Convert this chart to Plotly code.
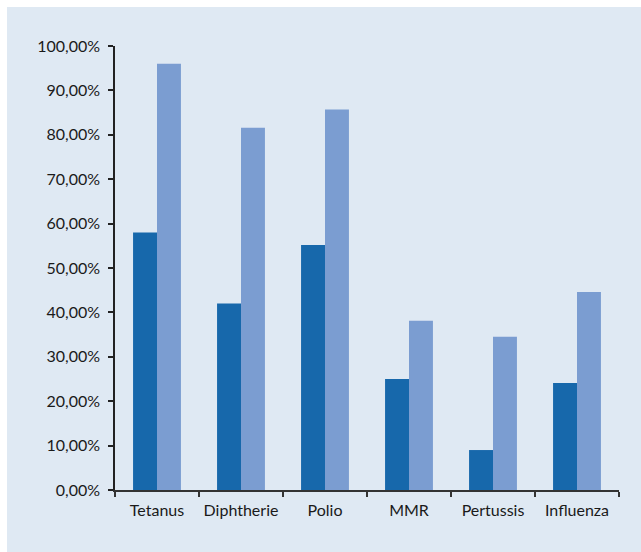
import plotly.graph_objects as go

categories = ["Tetanus", "Diphtherie", "Polio", "MMR", "Pertussis", "Influenza"]
series_dark = [58.0, 42.0, 55.2, 25.0, 9.0, 24.1]
series_light = [96.0, 81.6, 85.7, 38.1, 34.5, 44.6]
y_ticks = [0, 10, 20, 30, 40, 50, 60, 70, 80, 90, 100]
y_tick_labels = [f"{v:.2f}".replace(".", ",") + "%" for v in y_ticks]

W, H = 641, 552
L, R, T, B = 115, 22, 46, 62
pw, ph = W - L - R, H - T - B

fig = go.Figure()
fig.add_trace(go.Bar(x=categories, y=series_dark, marker=dict(color="#1768AB", line=dict(width=0)), name="A"))
fig.add_trace(go.Bar(x=categories, y=series_light, marker=dict(color="#7B9DD1", line=dict(width=0)), name="B"))

fig.add_shape(type="rect", xref="paper", yref="paper",
              x0=(7 - L) / pw, x1=(W - L) / pw,
              y0=(H - B - H) / ph, y1=(H - B - 7) / ph,
              fillcolor="#DFE9F3", line=dict(width=0), layer="below")

fig.update_layout(
    width=W, height=H,
    margin=dict(l=L, r=R, t=T, b=B, autoexpand=False),
    paper_bgcolor="white", plot_bgcolor="rgba(0,0,0,0)",
    barmode="group", bargap=0.43, bargroupgap=0,
    showlegend=False,
    font=dict(family="Lato, Open Sans, sans-serif", size=16, color="#1a1a1a"),
)
fig.update_xaxes(showgrid=False, showline=True, linecolor="#333333", linewidth=1.5,
                 ticks="outside", ticklen=5, tickcolor="#333333", tickwidth=1.5,
                 tickson="boundaries", ticklabelstandoff=5, tickangle=0, automargin=False)
fig.update_yaxes(range=[0, 100], tickvals=y_ticks, ticktext=y_tick_labels,
                 showgrid=False, zeroline=False, showline=True, linecolor="#222222", linewidth=1.5,
                 ticks="outside", ticklen=5, tickcolor="#222222", tickwidth=1.5,
                 ticklabelstandoff=5, automargin=False)

fig.write_html("out.html")
